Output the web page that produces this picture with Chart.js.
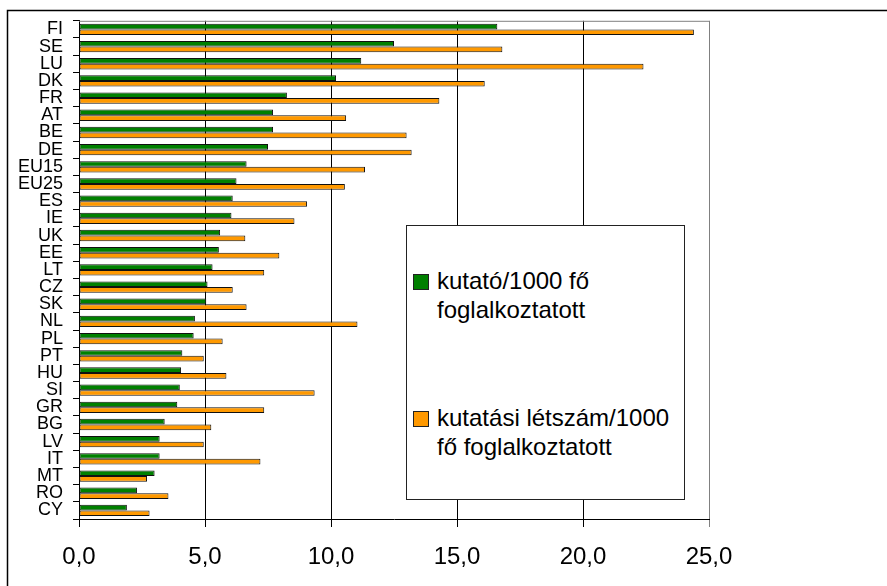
<!DOCTYPE html>
<html>
<head>
<meta charset="utf-8">
<script src="https://cdn.jsdelivr.net/npm/chart.js@4"></script>
<style>
	body { margin: 0; background: #fff; }
	#wrap { position: relative; width: 887px; height: 586px; }
	#legend {
		position: absolute; left: 406px; top: 225px; width: 277px; height: 273px;
		border: 1px solid #222; background: #fff;
		font-family: "Liberation Sans", Arial, sans-serif; font-size: 24px; color: #000;
	}
	.item { position: absolute; left: 6px; }
	.box { position: absolute; left: 0; width: 14px; height: 14px; border: 1px solid #222; }
	.txt { position: absolute; left: 24px; line-height: 29px; white-space: nowrap; }
</style>
</head>
<body>
<div id="wrap">
	<canvas id="canvas0" width="887" height="586"></canvas>
	<div id="legend">
		<div class="item" style="top:47px">
			<div class="box" style="background:#008000; top:1px"></div>
			<div class="txt" style="top:-7px">kutató/1000 fő<br>foglalkoztatott</div>
		</div>
		<div class="item" style="top:184px">
			<div class="box" style="background:#ff9900; top:1px"></div>
			<div class="txt" style="top:-7px">kutatási létszám/1000<br>fő foglalkoztatott</div>
		</div>
	</div>
</div>
<script>
const countries = ['FI', 'SE', 'LU', 'DK', 'FR', 'AT', 'BE', 'DE', 'EU15', 'EU25', 'ES', 'IE', 'UK', 'EE', 'LT',
	'CZ', 'SK', 'NL', 'PL', 'PT', 'HU', 'SI', 'GR', 'BG', 'LV', 'IT', 'MT', 'RO', 'CY'];

// kutató/1000 fő foglalkoztatott
const researchers = [16.6, 12.5, 11.2, 10.2, 8.25, 7.7, 7.7, 7.5, 6.65, 6.25, 6.1, 6.05, 5.6, 5.55, 5.3,
	5.1, 5.05, 4.6, 4.55, 4.1, 4.05, 4.0, 3.9, 3.4, 3.2, 3.2, 3.0, 2.3, 1.9];

// kutatási létszám/1000 fő foglalkoztatott
const staff = [24.4, 16.8, 22.4, 16.1, 14.3, 10.6, 13.0, 13.2, 11.35, 10.55, 9.05, 8.55, 6.6, 7.95, 7.35,
	6.1, 6.65, 11.05, 5.7, 4.95, 5.85, 9.35, 7.35, 5.25, 4.95, 7.2, 2.7, 3.55, 2.8];

const xTicks = [0, 5, 10, 15, 20, 25];

const font = 'Liberation Sans';

// outer frame and gray plot border
const framePlugin = {
	id: 'frame',
	afterDraw(chart) {
		const c = chart.ctx;
		const a = chart.chartArea;
		c.save();
		c.strokeStyle = '#808080';
		c.lineWidth = 1;
		c.beginPath();
		c.moveTo(a.left, a.top + 0.5);
		c.lineTo(a.right + 0.5, a.top + 0.5);
		c.lineTo(a.right + 0.5, a.bottom);
		c.stroke();
		c.strokeStyle = '#000';
		c.lineWidth = 1.5;
		c.beginPath();
		c.moveTo(887, 10.5);
		c.lineTo(7.5, 10.5);
		c.lineTo(7.5, 586);
		c.stroke();
		c.restore();
	}
};

const ctx = document.getElementById('canvas0').getContext('2d');

new Chart(ctx, {
	type: 'bar',
	data: {
		labels: countries,
		datasets: [{
			label: 'kutató/1000 fő foglalkoztatott',
			data: researchers,
			backgroundColor: '#008000',
			borderColor: '#111',
			borderWidth: 1,
			borderSkipped: false,
			categoryPercentage: 0.66,
			barPercentage: 1
		}, {
			label: 'kutatási létszám/1000 fő foglalkoztatott',
			data: staff,
			backgroundColor: '#ff9900',
			borderColor: '#111',
			borderWidth: 1,
			borderSkipped: false,
			categoryPercentage: 0.66,
			barPercentage: 1
		}]
	},
	options: {
		indexAxis: 'y',
		responsive: false,
		animation: false,
		devicePixelRatio: 1,
		layout: { padding: { top: 20, right: 178, left: 0, bottom: 0 } },
		plugins: {
			legend: { display: false },
			tooltip: { enabled: false }
		},
		scales: {
			x: {
				min: 0,
				max: 25,
				afterBuildTicks: (axis) => { axis.ticks = xTicks.map(v => ({ value: v })); },
				afterFit: (axis) => { axis.height = 67; },
				grid: { color: (c) => c.index === xTicks.length - 1 ? '#808080' : '#000', lineWidth: 1, tickLength: 8 },
				border: { color: '#000', width: 1 },
				ticks: {
					color: '#000',
					padding: 16,
					font: { family: font, size: 24 },
					callback: (v) => v.toFixed(1).replace('.', ',')
				}
			},
			y: {
				afterFit: (axis) => { axis.width = 79; },
				grid: { drawOnChartArea: false, offset: true, tickLength: 6, color: '#000' },
				border: { color: '#000', width: 1 },
				ticks: {
					color: '#000',
					padding: 10,
					autoSkip: false,
					font: { family: font, size: 18 }
				}
			}
		}
	},
	plugins: [framePlugin]
});
</script>
</body>
</html>
